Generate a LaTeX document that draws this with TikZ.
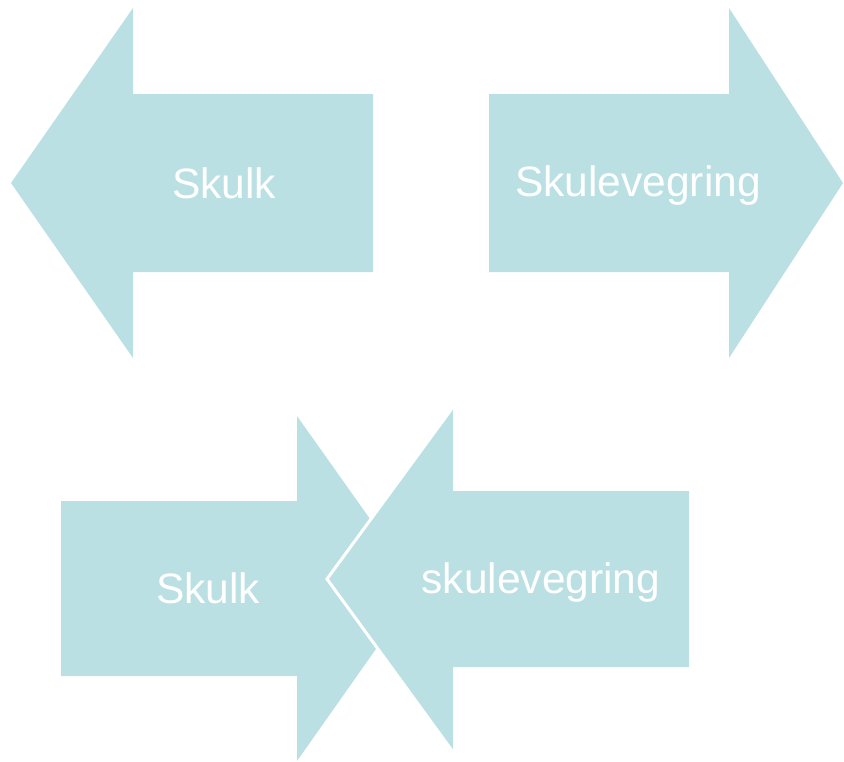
\documentclass[tikz,border=0pt]{standalone}
\usepackage{fontspec}
\setmainfont{Liberation Sans}
\usepackage{tikz}
\definecolor{arrowblue}{HTML}{BBE0E3}
\tikzset{
  arrowfill/.style={fill=arrowblue},
  label/.style={text=white,font=\fontsize{42.5}{50}\selectfont,inner sep=0pt}
}

\begin{document}
\begin{tikzpicture}[x=1pt,y=-1pt]
  \useasboundingbox (0,0) rectangle (844,761);
   \coordinate (LeftTip) at (11,183);
   \coordinate (RightTip) at (843,183);
   \coordinate (PushTip) at (419,588);
   \coordinate (BackTip) at (327,579);
% top row: two arrows pointing away
  \fill[arrowfill] (LeftTip) -- (133,8) -- (133,94) -- (373,94) -- (373,272)
        -- (133,272) -- (133,358) -- cycle;
  \fill[arrowfill] (RightTip) -- (729,8) -- (729,94) -- (489,94) -- (489,272)
        -- (729,272) -- (729,358) -- cycle;
  \node[label] (skulkA) at (224,183) {Skulk};
  \node[label] (vegringA) at (638,186) {Skulevegring};
% bottom row: two arrows pushing into each other
  \fill[arrowfill] (PushTip) -- (297,416) -- (297,501) -- (61,501) -- (61,676)
        -- (297,676) -- (297,761) -- cycle;
  \fill[arrowfill]
        (BackTip) -- (453,407) -- (453,491) -- (689,491) -- (689,667)
        -- (453,667) -- (453,752) -- cycle;
  \draw[white,line width=3pt] (453,407) -- (BackTip) -- (453,752);
  \node[label] (skulkB) at (208,588) {Skulk};
  \node[label] (vegringB) at (541,583) {skulevegring};
 \end{tikzpicture}
\end{document}
